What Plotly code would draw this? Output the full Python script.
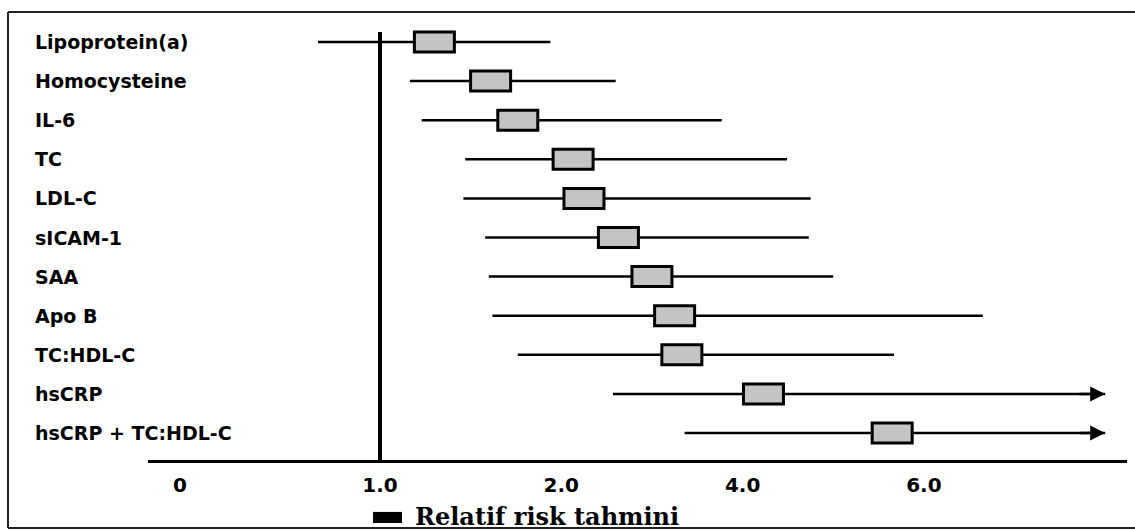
import numpy as np
import plotly.graph_objects as go

# ---- data ----
markers = ["Lipoprotein(a)", "Homocysteine", "IL-6", "TC", "LDL-C", "sICAM-1",
           "SAA", "Apo B", "TC:HDL-C", "hsCRP", "hsCRP + TC:HDL-C"]
rr_estimate = [1.30, 1.61, 1.76, 2.13, 2.25, 2.63, 3.00, 3.25, 3.33, 4.23, 5.65]
ci_lower = [0.69, 1.165, 1.23, 1.47, 1.46, 1.58, 1.60, 1.62, 1.76, 2.57, 3.36]
ci_upper = [1.94, 2.60, 3.77, 4.49, 4.75, 4.73, 5.00, 6.65, 5.67, None, None]  # None = open-ended (arrow)
tick_values = [0, 1, 2, 4, 6]
tick_labels = ["0", "1.0", "2.0", "4.0", "6.0"]
legend_label = "Relatif risk tahmini"

# ---- axis scale of the original (broken, non-linear axis) ----
ARROW_END = 8.0
scale_rr = [0, 1, 2, 4, 6, 8]
scale_pos = [-1.103, 0, 1, 2, 3, 4]


def pos(v):
    return float(np.interp(v, scale_rr, scale_pos))


rows = list(range(len(markers)))

fig = go.Figure()

# whiskers
wx, wy = [], []
for i, lo, hi in zip(rows, ci_lower, ci_upper):
    end = hi if hi is not None else ARROW_END
    wx += [pos(lo), pos(end), None]
    wy += [i, i, None]
fig.add_trace(go.Scatter(x=wx, y=wy, mode="lines",
                         line=dict(color="black", width=2.5),
                         showlegend=False, hoverinfo="skip"))

# estimate points (hover), boxes drawn as shapes
fig.add_trace(go.Scatter(x=[pos(v) for v in rr_estimate], y=rows, mode="markers",
                         marker=dict(size=1, color="rgba(0,0,0,0)"),
                         text=markers, showlegend=False,
                         hovertemplate="%{text}<extra></extra>"))

shapes = []
for i, v in zip(rows, rr_estimate):
    shapes.append(dict(type="rect", xref="x", yref="y",
                       xsizemode="pixel", xanchor=pos(v), x0=-20, x1=20,
                       ysizemode="pixel", yanchor=i, y0=-10, y1=10,
                       fillcolor="#c4c4c4", line=dict(color="black", width=3),
                       layer="above"))

# reference line at RR = 1.0
shapes.append(dict(type="line", xref="x", yref="paper", x0=pos(1.0), x1=pos(1.0),
                   y0=0, y1=0.973, line=dict(color="black", width=4)))

# frame (top, left, bottom)
shapes += [
    dict(type="line", xref="paper", yref="paper", x0=-0.143, x1=1.0082, y0=1.018, y1=1.018,
         line=dict(color="#222", width=2)),
    dict(type="line", xref="paper", yref="paper", x0=-0.143, x1=-0.143, y0=-0.1545, y1=1.018,
         line=dict(color="#222", width=2)),
    dict(type="line", xref="paper", yref="paper", x0=-0.143, x1=1.0082, y0=-0.1545, y1=-0.1545,
         line=dict(color="#222", width=2)),
    # legend swatch
    dict(type="rect", xref="paper", yref="paper", x0=0.2298, x1=0.2594, y0=-0.1432, y1=-0.118,
         fillcolor="black", line=dict(width=0)),
]

annotations = []
for i, name in zip(rows, markers):
    annotations.append(dict(text=name, xref="paper", yref="y", x=-0.1175, y=i,
                            xanchor="left", yanchor="middle", showarrow=False,
                            font=dict(family="DejaVu Sans", size=19, color="black", weight="bold")))

# arrow heads for open-ended intervals
for i, hi in zip(rows, ci_upper):
    if hi is None:
        annotations.append(dict(x=pos(ARROW_END), y=i, ax=pos(ARROW_END) - 0.15, ay=i,
                                xref="x", yref="y", axref="x", ayref="y",
                                text="", showarrow=True, arrowhead=2, arrowsize=1.2,
                                arrowwidth=2.5, arrowcolor="black", standoff=0))

annotations.append(dict(text=legend_label, xref="paper", yref="paper", x=0.2707, y=-0.129,
                        xanchor="left", yanchor="middle", showarrow=False,
                        font=dict(family="DejaVu Serif", size=24, color="black", weight="bold")))

fig.update_layout(
    width=1135, height=532, autosize=False,
    margin=dict(l=148, r=8, t=20, b=72),
    paper_bgcolor="white", plot_bgcolor="white",
    shapes=shapes, annotations=annotations,
    showlegend=False,
    xaxis=dict(range=[-1.2797, 4.1203], showgrid=False, zeroline=False,
               showline=True, linecolor="black", linewidth=2.5,
               tickvals=[pos(t) for t in tick_values], ticktext=tick_labels,
               ticks="", ticklabelstandoff=5,
               tickfont=dict(family="DejaVu Sans", size=20, color="black", weight="bold"),
               fixedrange=True),
    yaxis=dict(range=[10.69, -0.563], showgrid=False, zeroline=False, showline=False,
               showticklabels=False, ticks="", fixedrange=True),
)

fig.write_html("out.html", config={"displayModeBar": False},
               post_script="document.body.style.margin='0';document.body.style.overflow='hidden';")
